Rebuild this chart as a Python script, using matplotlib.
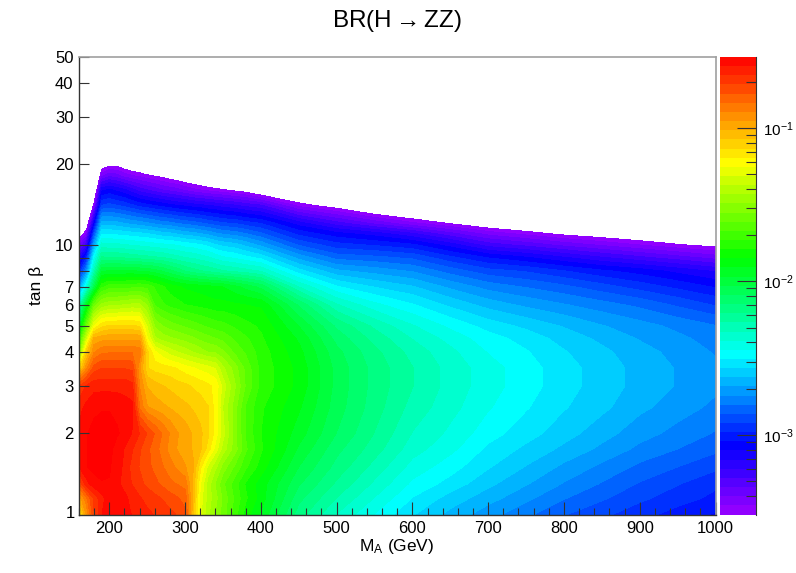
import numpy as np
import matplotlib
matplotlib.use("Agg")
import matplotlib.pyplot as plt
from matplotlib.colors import LinearSegmentedColormap, Normalize
from matplotlib.ticker import FixedLocator, NullFormatter, FixedFormatter

plt.rcParams['font.family'] = ['Liberation Sans', 'DejaVu Sans']
plt.rcParams['mathtext.fontset'] = 'custom'
plt.rcParams['mathtext.rm'] = 'Liberation Sans'
plt.rcParams['mathtext.it'] = 'Liberation Sans'
plt.rcParams['mathtext.default'] = 'regular'

# Log10(BR) at MA (columns) and tan beta (rows)
ma = [160,170,180,190,200,210,220,230,240,250,260,270,280,290,300,310,320,330,340,350,365,380,400,450,500,550,600,650,700,750,800,850,900,950,1000]
tanb = [1,1.15,1.3,1.5,1.75,2,2.5,3,3.5,4,4.5,5,6,7,8,9,10,11,12,14,16,18,20,22]
r_1_00 = [-1.2,-.95,-.72,-.6,-.55,-.56,-.57,-.6,-.62,-.64,-.66,-.68,-.7,-.72,-.76,-1.05,-1.3,-1.42,-1.5,-1.58,-1.7,-1.82,-1.92,-2.18,-2.33,-2.45,-2.56,-2.645,-2.72,-2.79,-2.86,-2.91,-2.96,-3.01,-3.05]
r_1_15 = [-1.0,-.85,-.7,-.62,-.56,-.56,-.58,-.62,-.65,-.68,-.7,-.72,-.75,-.77,-.8,-1.03,-1.28,-1.4,-1.47,-1.57,-1.68,-1.78,-1.88,-2.13,-2.27,-2.39,-2.51,-2.59,-2.66,-2.73,-2.80,-2.855,-2.91,-2.955,-3.0]
r_1_30 = [-.78,-.62,-.56,-.54,-.54,-.58,-.62,-.66,-.7,-.73,-.76,-.79,-.82,-.84,-.86,-1.03,-1.25,-1.4,-1.5,-1.6,-1.7,-1.8,-1.88,-2.08,-2.22,-2.34,-2.46,-2.53,-2.61,-2.68,-2.75,-2.81,-2.87,-2.92,-2.97]
r_1_50 = [-.6,-.54,-.52,-.52,-.53,-.57,-.61,-.68,-.72,-.76,-.79,-.83,-.87,-.91,-.95,-1.0,-1.18,-1.33,-1.42,-1.52,-1.62,-1.72,-1.82,-2.03,-2.17,-2.29,-2.41,-2.48,-2.56,-2.63,-2.70,-2.76,-2.82,-2.865,-2.91]
r_1_75 = [-.58,-.54,-.52,-.52,-.52,-.56,-.6,-.65,-.71,-.76,-.81,-.86,-.92,-.96,-.98,-1.02,-1.06,-1.16,-1.28,-1.4,-1.52,-1.66,-1.78,-1.98,-2.13,-2.24,-2.36,-2.43,-2.52,-2.58,-2.64,-2.70,-2.76,-2.805,-2.85]
r_2_00 = [-.58,-.54,-.52,-.52,-.52,-.53,-.55,-.6,-.66,-.72,-.78,-.84,-.9,-.95,-.98,-1.02,-1.06,-1.12,-1.22,-1.35,-1.52,-1.68,-1.79,-1.94,-2.09,-2.21,-2.33,-2.40,-2.48,-2.54,-2.60,-2.66,-2.72,-2.765,-2.81]
r_2_50 = [-.62,-.58,-.55,-.54,-.54,-.55,-.57,-.58,-.85,-.95,-.98,-1.0,-1.02,-1.04,-1.06,-1.08,-1.1,-1.13,-1.22,-1.38,-1.52,-1.68,-1.78,-1.90,-2.06,-2.18,-2.29,-2.365,-2.44,-2.50,-2.56,-2.61,-2.67,-2.715,-2.76]
r_3_00 = [-.72,-.65,-.62,-.62,-.62,-.62,-.62,-.64,-.9,-1.02,-1.05,-1.07,-1.09,-1.11,-1.12,-1.14,-1.16,-1.18,-1.21,-1.34,-1.48,-1.62,-1.75,-1.87,-2.05,-2.17,-2.265,-2.35,-2.42,-2.48,-2.54,-2.595,-2.645,-2.69,-2.73]
r_3_50 = [-1.15,-.92,-.75,-.72,-.72,-.72,-.72,-.73,-.95,-1.13,-1.16,-1.17,-1.18,-1.2,-1.23,-1.25,-1.27,-1.29,-1.32,-1.42,-1.52,-1.63,-1.75,-1.87,-2.05,-2.17,-2.265,-2.35,-2.42,-2.48,-2.54,-2.595,-2.645,-2.69,-2.73]
r_4_00 = [-1.55,-1.1,-.9,-.85,-.84,-.84,-.84,-.84,-.86,-1.12,-1.24,-1.29,-1.34,-1.37,-1.4,-1.43,-1.46,-1.49,-1.5,-1.54,-1.62,-1.68,-1.76,-1.89,-2.07,-2.19,-2.29,-2.37,-2.45,-2.50,-2.56,-2.61,-2.66,-2.705,-2.75]
r_4_50 = [-1.75,-1.35,-1.0,-.98,-.97,-.97,-.97,-.97,-.97,-1.25,-1.42,-1.46,-1.48,-1.5,-1.52,-1.54,-1.57,-1.59,-1.61,-1.63,-1.68,-1.72,-1.78,-1.92,-2.11,-2.23,-2.33,-2.41,-2.48,-2.53,-2.59,-2.64,-2.69,-2.73,-2.77]
r_5_00 = [-2.0,-1.6,-1.25,-1.15,-1.12,-1.12,-1.12,-1.12,-1.14,-1.32,-1.5,-1.55,-1.58,-1.6,-1.62,-1.64,-1.66,-1.68,-1.7,-1.71,-1.74,-1.77,-1.80,-1.97,-2.16,-2.28,-2.38,-2.46,-2.53,-2.58,-2.63,-2.68,-2.72,-2.76,-2.80]
r_6_00 = [-2.35,-1.95,-1.6,-1.48,-1.45,-1.45,-1.43,-1.42,-1.42,-1.5,-1.68,-1.72,-1.75,-1.77,-1.79,-1.8,-1.81,-1.82,-1.83,-1.83,-1.84,-1.85,-1.86,-2.1,-2.32,-2.43,-2.50,-2.58,-2.65,-2.70,-2.74,-2.78,-2.82,-2.875,-2.93]
r_7_00 = [-2.72,-2.42,-2.05,-1.75,-1.7,-1.7,-1.7,-1.69,-1.68,-1.69,-1.74,-1.78,-1.82,-1.84,-1.86,-1.87,-1.88,-1.89,-1.9,-1.91,-1.95,-1.99,-2.05,-2.33,-2.50,-2.57,-2.62,-2.70,-2.77,-2.81,-2.85,-2.90,-2.95,-3.0,-3.05]
r_8_00 = [-3.0,-2.75,-2.3,-1.98,-1.96,-1.96,-1.96,-1.96,-1.97,-1.98,-2.0,-2.03,-2.07,-2.11,-2.15,-2.18,-2.2,-2.22,-2.24,-2.26,-2.28,-2.30,-2.33,-2.54,-2.67,-2.71,-2.75,-2.83,-2.90,-2.93,-2.98,-3.03,-3.07,-3.12,-3.17]
r_9_00 = [-3.2,-3.0,-2.48,-2.2,-2.21,-2.21,-2.22,-2.23,-2.24,-2.25,-2.26,-2.27,-2.29,-2.31,-2.33,-2.34,-2.36,-2.38,-2.41,-2.44,-2.46,-2.49,-2.53,-2.71,-2.83,-2.85,-2.88,-2.97,-3.05,-3.10,-3.16,-3.22,-3.27,-3.32,-3.37]
r_10_0 = [-3.42,-3.25,-2.7,-2.36,-2.37,-2.37,-2.38,-2.39,-2.40,-2.41,-2.42,-2.43,-2.44,-2.45,-2.47,-2.48,-2.50,-2.52,-2.56,-2.58,-2.60,-2.64,-2.70,-2.87,-2.96,-2.99,-3.03,-3.13,-3.25,-3.30,-3.36,-3.41,-3.46,-3.51,-3.55]
r_11_0 = [-3.62,-3.45,-2.9,-2.51,-2.51,-2.52,-2.53,-2.54,-2.55,-2.56,-2.58,-2.6,-2.61,-2.63,-2.65,-2.66,-2.68,-2.7,-2.73,-2.75,-2.77,-2.80,-2.85,-3.0,-3.08,-3.13,-3.21,-3.32,-3.42,-3.48,-3.54,-3.58,-3.62,-3.67,-3.72]
r_12_0 = [-3.85,-3.65,-3.1,-2.65,-2.65,-2.66,-2.68,-2.7,-2.71,-2.73,-2.75,-2.77,-2.78,-2.8,-2.82,-2.83,-2.85,-2.87,-2.89,-2.91,-2.92,-2.95,-2.98,-3.13,-3.25,-3.35,-3.44,-3.52,-3.60,-3.65,-3.70,-3.74,-3.78,-3.83,-3.88]
r_14_0 = [-4.2,-3.95,-3.48,-2.92,-2.90,-2.92,-2.94,-2.97,-3.0,-3.02,-3.04,-3.06,-3.08,-3.1,-3.11,-3.13,-3.14,-3.16,-3.17,-3.19,-3.21,-3.24,-3.27,-3.48,-3.57,-3.69,-3.76,-3.82,-3.88,-3.92,-3.95,-3.98,-4.0,-4.05,-4.1]
r_16_0 = [-4.4,-4.2,-3.75,-3.12,-3.09,-3.12,-3.15,-3.2,-3.25,-3.28,-3.31,-3.34,-3.36,-3.38,-3.41,-3.44,-3.46,-3.48,-3.5,-3.51,-3.54,-3.57,-3.65,-3.71,-3.8,-3.9,-3.95,-4.0,-4.1,-4.15,-4.2,-4.25,-4.3,-4.35,-4.4]
r_18_0 = [-4.6,-4.4,-4.0,-3.41,-3.35,-3.37,-3.42,-3.45,-3.47,-3.5,-3.52,-3.54,-3.57,-3.59,-3.62,-3.64,-3.66,-3.68,-3.7,-3.72,-3.75,-3.78,-3.82,-3.92,-4.0,-4.1,-4.15,-4.2,-4.3,-4.35,-4.4,-4.45,-4.5,-4.55,-4.6]
r_20_0 = [-4.8,-4.6,-4.2,-3.61,-3.56,-3.56,-3.6,-3.63,-3.66,-3.68,-3.7,-3.72,-3.75,-3.77,-3.8,-3.82,-3.84,-3.86,-3.89,-3.9,-3.93,-3.95,-4.0,-4.1,-4.19,-4.3,-4.35,-4.4,-4.5,-4.55,-4.6,-4.65,-4.7,-4.75,-4.8]
r_22_0 = [-5.0,-4.8,-4.4,-3.77,-3.72,-3.73,-3.77,-3.79,-3.82,-3.85,-3.87,-3.89,-3.91,-3.94,-3.97,-3.99,-4.01,-4.03,-4.05,-4.07,-4.09,-4.11,-4.16,-4.27,-4.36,-4.45,-4.5,-4.55,-4.6,-4.7,-4.75,-4.8,-4.85,-4.9,-5.0]
log_br = np.array([r_1_00,r_1_15,r_1_30,r_1_50,r_1_75,r_2_00,r_2_50,r_3_00,r_3_50,r_4_00,r_4_50,r_5_00,r_6_00,r_7_00,r_8_00,r_9_00,r_10_0,r_11_0,r_12_0,r_14_0,r_16_0,r_18_0,r_20_0,r_22_0])

zmin, zmax = -3.52, -0.536
n_levels = 50
levels = np.linspace(zmin, zmax, n_levels + 1)

stops = [(-3.52, (0.60, 0.0, 1.0)), (-3.07, (0.0, 0.0, 1.0)), (-2.48, (0.0, 1.0, 1.0)),
         (-1.85, (0.0, 1.0, 0.0)), (-1.22, (1.0, 1.0, 0.0)), (-0.536, (1.0, 0.0, 0.0))]
cmap = LinearSegmentedColormap.from_list('rb', [((v - zmin) / (zmax - zmin), c) for v, c in stops], N=256)
norm = Normalize(zmin, zmax)

W, H = 796, 573
fig = plt.figure(figsize=(W / 100, H / 100), dpi=100)
L, R, T, B = 79, 715.5, 57, 514.5
ax = fig.add_axes([L / W, 1 - B / H, (R - L) / W, (B - T) / H])
cs = ax.contourf(ma, tanb, log_br, levels=levels, cmap=cmap, norm=norm, extend='max')
cs.cmap.set_over((1, 0, 0))
cs.set_edgecolor('face')
cs.set_linewidth(0.3)
ax.set_yscale('log')
ax.set_xlim(160, 1000)
ax.set_ylim(1, 50)

dark = '#333333'
grey = '#a0a0a0'
for s in ('left', 'bottom'):
    ax.spines[s].set_color(dark)
    ax.spines[s].set_linewidth(1.0)
for s in ('top', 'right'):
    ax.spines[s].set_color(grey)
    ax.spines[s].set_linewidth(1.2)

ax.xaxis.set_major_locator(FixedLocator([200, 300, 400, 500, 600, 700, 800, 900, 1000]))
ax.xaxis.set_minor_locator(FixedLocator(list(range(160, 1000, 20))))
ax.xaxis.set_minor_formatter(NullFormatter())
ax.tick_params(axis='x', which='major', direction='in', length=9.5, width=0.8, color=dark, labelsize=12, pad=5)
ax.tick_params(axis='x', which='minor', direction='in', length=5, width=0.8, color=dark)

y_major = [10]
y_minor = [2, 3, 4, 5, 6, 7, 8, 9, 20, 30, 40, 50]
ax.yaxis.set_major_locator(FixedLocator(y_major))
ax.yaxis.set_major_formatter(FixedFormatter(['10']))
ax.yaxis.set_minor_locator(FixedLocator(y_minor))
ax.yaxis.set_minor_formatter(FixedFormatter(['2', '3', '4', '5', '6', '7', '', '', '20', '30', '40', '50']))
ax.tick_params(axis='y', which='major', direction='in', length=13.5, width=0.8, color=dark, labelsize=12, pad=4)
ax.tick_params(axis='y', which='minor', direction='in', length=7, width=0.8, color=dark, labelsize=12, pad=4)
fig.text(75 / W, 1 - 514 / H, '1', ha='right', va='center', fontsize=12)

fig.text(397 / W, 1 - 547 / H, 'M$_{A}$ (GeV)', ha='center', va='center', fontsize=12.5)
fig.text(37 / W, 1 - 285 / H, 'tan β', ha='center', va='center', rotation=90, fontsize=12.5)
fig.text(397 / W, 1 - 21 / H, 'BR(H$\\rightarrow$ZZ)', ha='center', va='center', fontsize=17.5)

# colour bar
cax = fig.add_axes([720 / W, 1 - 514.5 / H, 36 / W, (514.5 - 57) / H])
edges = 10.0 ** levels
band_vals = np.array([0.5 * (levels[:-1] + levels[1:])]).T
cax.pcolormesh([0, 1], edges, band_vals, cmap=cmap, norm=norm, shading='flat')
cax.set_yscale('log')
cax.set_ylim(edges[0], edges[-1])
cax.set_xlim(0, 1)
cax.set_xticks([])
cax.yaxis.tick_right()
cax.yaxis.set_major_locator(FixedLocator([1e-3, 1e-2, 1e-1]))
cax.yaxis.set_major_formatter(FixedFormatter(['$10^{-3}$', '$10^{-2}$', '$10^{-1}$']))
cb_minor = [m * d for d in (1e-4, 1e-3, 1e-2, 1e-1) for m in range(2, 10) if 10 ** zmin <= m * d <= 10 ** zmax]
cax.yaxis.set_minor_locator(FixedLocator(cb_minor))
cax.yaxis.set_minor_formatter(NullFormatter())
cax.tick_params(axis='y', which='major', direction='in', length=13.5, width=0.8, color=dark, labelsize=11, pad=5)
cax.tick_params(axis='y', which='minor', direction='in', length=7, width=0.8, color=dark)
for s in ('left', 'top', 'bottom'):
    cax.spines[s].set_visible(False)
cax.spines['right'].set_color(dark)
cax.spines['right'].set_linewidth(0.8)

fig.savefig('out.png', dpi=100)
